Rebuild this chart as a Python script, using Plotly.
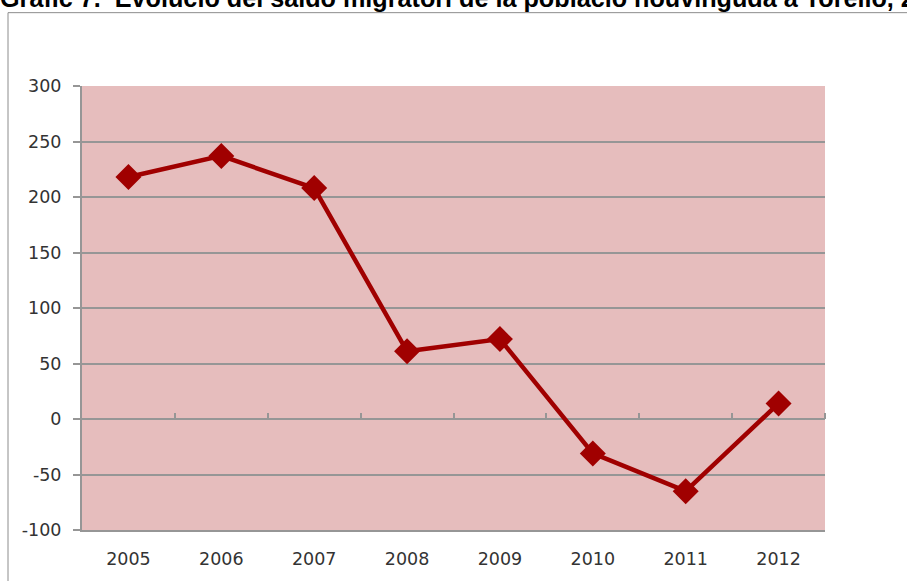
import plotly.graph_objects as go

years = ["2005", "2006", "2007", "2008", "2009", "2010", "2011", "2012"]
saldo = [218, 237, 208, 61, 72, -31, -65, 14]
y_ticks = [-100, -50, 0, 50, 100, 150, 200, 250, 300]
y_ticktext = ["-100", "-50", "0", "50", "100", "150", "200", "250", "300"]
title_text = "Gràfic 7.&nbsp; Evolució del saldo migratori de la població nouvinguda a Torelló, 2005-2012"

W, H = 907, 581
L, R, T, B = 82, 82, 86, 47
pw, ph = W - L - R, H - T - B

def px_x(px):
    return (px - L) / pw

def px_y(py):
    return (H - B - py) / ph

fig = go.Figure()
fig.add_trace(go.Scatter(
    x=list(range(len(years))), y=saldo, mode="lines+markers",
    line=dict(color="#A00000", width=4.5),
    marker=dict(symbol="diamond", size=20, color="#A00000"),
    showlegend=False, hoverinfo="skip",
))
# dummy trace for the secondary x axis carrying the boundary ticks at zero
fig.add_trace(go.Scatter(x=[None], y=[None], xaxis="x2", showlegend=False, hoverinfo="skip"))

grid = "#969696"
fig.update_layout(
    width=W, height=H,
    margin=dict(l=L, r=R, t=T, b=B),
    paper_bgcolor="white",
    plot_bgcolor="#E6BDBD",
    font=dict(family="DejaVu Sans, sans-serif", size=17.5, color="#333333"),
    xaxis=dict(
        range=[-0.5, len(years) - 0.5],
        tickmode="array", tickvals=list(range(len(years))), ticktext=years,
        showgrid=False, zeroline=False,
        showline=True, linecolor=grid, linewidth=2,
        ticks="", ticklabelstandoff=12,
    ),
    xaxis2=dict(
        overlaying="x", anchor="free", position=(0 - y_ticks[0]) / (y_ticks[-1] - y_ticks[0]),
        side="top",
        range=[-0.5, len(years) - 0.5],
        tickmode="array", tickvals=[i + 0.5 for i in range(len(years))],
        ticks="outside", ticklen=6, tickcolor=grid, tickwidth=1.5,
        showticklabels=False, showgrid=False, zeroline=False, showline=False,
    ),
    yaxis=dict(
        range=[y_ticks[0], y_ticks[-1]],
        tickmode="array", tickvals=y_ticks, ticktext=y_ticktext,
        showgrid=True, gridcolor=grid, gridwidth=2,
        zeroline=True, zerolinecolor=grid, zerolinewidth=2,
        showline=True, linecolor=grid, linewidth=2,
        ticks="outside", ticklen=7, tickcolor=grid, tickwidth=1.5,
        ticklabelstandoff=8,
    ),
    shapes=[dict(
        type="rect", xref="paper", yref="paper",
        x0=px_x(8), x1=px_x(W + 20), y0=px_y(H + 20), y1=px_y(12),
        line=dict(color="#8c8c8c", width=1), fillcolor="rgba(0,0,0,0)", layer="below",
    )],
    annotations=[
        dict(text="<b>" + title_text + "</b>", xref="paper", yref="paper",
             x=px_x(-2), y=px_y(13), xanchor="left", yanchor="bottom",
             showarrow=False,
             font=dict(family="Liberation Sans, Arial, sans-serif", size=25.2, color="black")),
    ],
)

fig.write_html("out.html", config={"displayModeBar": False},
               post_script="document.body.style.margin='0';document.body.style.overflow='hidden';")
